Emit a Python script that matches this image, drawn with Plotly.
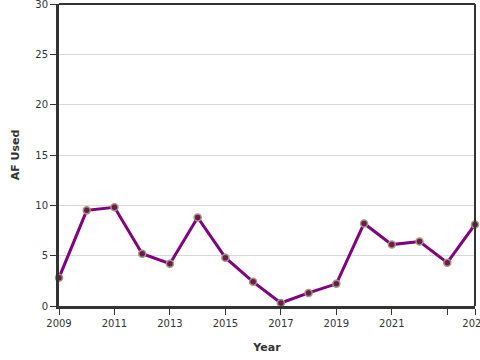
import plotly.graph_objects as go

years = [2009, 2010, 2011, 2012, 2013, 2014, 2015, 2016, 2017, 2018, 2019, 2020, 2021, 2022, 2023, 2024]
af_used = [2.8, 9.5, 9.8, 5.2, 4.2, 8.8, 4.8, 2.4, 0.3, 1.3, 2.2, 8.2, 6.1, 6.4, 4.3, 8.1]
tick_vals = [2009, 2011, 2013, 2015, 2017, 2019, 2021, 2023, 2024]
tick_text = ["2009", "2011", "2013", "2015", "2017", "2019", "2021", "", "2024"]

fig = go.Figure()
fig.add_trace(go.Scatter(
    x=years, y=af_used, mode="lines+markers",
    line=dict(color="#800080", width=3),
    marker=dict(size=7, color="#701850", line=dict(color="#a0987a", width=1.5)),
    cliponaxis=False,
))

fig.update_layout(
    width=480, height=360,
    margin=dict(l=59, r=5, t=4, b=54, autoexpand=False),
    paper_bgcolor="white", plot_bgcolor="white",
    font=dict(family="DejaVu Sans", size=10, color="#333"),
    showlegend=False,
    xaxis=dict(
        range=[2009, 2024], tickvals=tick_vals, ticktext=tick_text,
        showgrid=False, zeroline=False, automargin=False, ticklabeloverflow="allow",
        showline=True, linecolor="#333", linewidth=3, mirror=False,
        ticks="outside", ticklen=6, tickcolor="#333", tickwidth=1,
        title=dict(text="<b>Year</b>", font=dict(size=11, color="#333"), standoff=16),
        tickfont=dict(size=10, color="#333"),
    ),
    yaxis=dict(
        range=[0, 30], tickvals=[0, 5, 10, 15, 20, 25, 30],
        showgrid=True, gridcolor="#d8d8d8", gridwidth=1, zeroline=False, automargin=False,
        ticklabeloverflow="allow",
        showline=True, linecolor="#333", linewidth=3,
        ticks="outside", ticklen=6, tickcolor="#333", tickwidth=1,
        title=dict(text="<b>AF Used</b>", font=dict(size=11, color="#333"), standoff=14),
        tickfont=dict(size=10, color="#333"),
    ),
    shapes=[
        dict(type="line", xref="paper", yref="paper", x0=0, x1=1, y0=1, y1=1,
             line=dict(color="#333", width=2)),
        dict(type="line", xref="paper", yref="paper", x0=1, x1=1, y0=0, y1=1,
             line=dict(color="#333", width=2)),
    ],
)

fig.write_html("out.html", config={"displayModeBar": False},
               post_script="document.body.style.margin='0px';")
